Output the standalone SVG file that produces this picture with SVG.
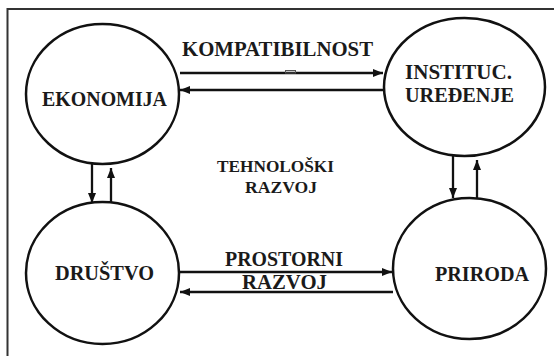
<svg xmlns="http://www.w3.org/2000/svg" width="554" height="356" viewBox="0 0 554 356">
<style>
.node ellipse{fill:#fff;stroke:#111;stroke-width:2.5}
.con line{stroke:#111;stroke-width:2.3}
</style>
<defs>
<marker id="ah" markerWidth="10" markerHeight="8" refX="10" refY="4" orient="auto" markerUnits="userSpaceOnUse">
<path d="M0,0 L10,4 L0,8 Z" fill="#111"/>
</marker>
</defs>
<rect width="554" height="356" fill="#fff"/>
<g id="frame" stroke="#333" stroke-width="2" fill="none">
<line x1="7.5" y1="9" x2="554" y2="9"/>
<line x1="7.5" y1="8" x2="7.5" y2="356"/>
</g>
<g font-family="Liberation Serif, Times New Roman, Times, DejaVu Serif, serif" font-weight="bold" font-size="20" fill="#1a1a1a" lengthAdjust="spacingAndGlyphs">
<g id="ekonomija" class="node">
<ellipse cx="102.5" cy="94" rx="76.5" ry="70"/>
<text x="42" y="106" textLength="125" lengthAdjust="spacingAndGlyphs">EKONOMIJA</text>
</g>
<g id="instituc" class="node">
<ellipse cx="464.5" cy="87" rx="80.5" ry="69"/>
<text x="405" y="79" textLength="107" lengthAdjust="spacingAndGlyphs">INSTITUC.</text>
<text x="405" y="102" textLength="109" lengthAdjust="spacingAndGlyphs">UREĐENJE</text>
</g>
<g id="drustvo" class="node">
<ellipse cx="102.5" cy="273" rx="76.5" ry="71"/>
<text x="55" y="280" textLength="99" lengthAdjust="spacingAndGlyphs">DRUŠTVO</text>
</g>
<g id="priroda" class="node">
<ellipse cx="469.5" cy="268.5" rx="76.5" ry="70.5"/>
<text x="435" y="281" textLength="94" lengthAdjust="spacingAndGlyphs">PRIRODA</text>
</g>
<g id="labels">
<text x="182" y="56" textLength="191" lengthAdjust="spacingAndGlyphs">KOMPATIBILNOST</text>
<text x="217" y="172" font-size="17.5" textLength="117" lengthAdjust="spacingAndGlyphs">TEHNOLOŠKI</text>
<text x="245" y="193" font-size="17.5" textLength="72" lengthAdjust="spacingAndGlyphs">RAZVOJ</text>
<text x="225" y="266" textLength="118" lengthAdjust="spacingAndGlyphs">PROSTORNI</text>
<text x="242" y="289" textLength="85" lengthAdjust="spacingAndGlyphs">RAZVOJ</text>
</g>
</g>
<g id="connectors" class="con">
<line x1="180" y1="73" x2="383" y2="73" marker-end="url(#ah)"/>
<line x1="383" y1="90" x2="180" y2="90" marker-end="url(#ah)"/>
<line x1="179" y1="272" x2="392" y2="272" marker-end="url(#ah)"/>
<line x1="393" y1="292" x2="180" y2="292" marker-end="url(#ah)"/>
<line x1="92" y1="163" x2="92" y2="203" marker-end="url(#ah)"/>
<line x1="111" y1="203" x2="111" y2="168" marker-end="url(#ah)"/>
<line x1="453" y1="156" x2="453" y2="198" marker-end="url(#ah)"/>
<line x1="477" y1="198" x2="477" y2="160" marker-end="url(#ah)"/>
</g>
<rect x="285.5" y="70.5" width="10" height="2.5" fill="none" stroke="#555" stroke-width="1"/>
</svg>
